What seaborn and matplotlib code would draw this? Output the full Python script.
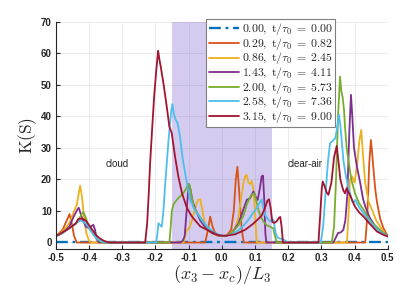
import numpy as np
import pandas as pd
import matplotlib
matplotlib.use("Agg")
import matplotlib.pyplot as plt
import seaborn as sns

# ──────────────────────────────────────────
# DONNÉES
# ──────────────────────────────────────────
labels = ["0.00", "0.29", "0.86", "1.43", "2.00", "2.58", "3.15"]
tau = ["0.00", "0.82", "2.45", "4.11", "5.73", "7.36", "9.00"]

x_000 = [-0.5, 0.5]
y_000 = [0, 0]

x_029 = [-0.5, -0.48, -0.465, -0.459, -0.452, -0.445, -0.437,
         -0.05, -0.042, -0.035, -0.028, -0.018, 0.0, 0.015, 0.028, 0.036,
         0.042, 0.047, 0.053, 0.06, 0.066,
         0.432, 0.438, 0.444, 0.449, 0.453, 0.457, 0.462, 0.467, 0.477,
         0.487, 0.5]
y_029 = [2, 4, 7.5, 9, 6, 2, 0,
         0, 4, 8.2, 5, 2.5, 2, 2.3, 4, 10,
         20, 24, 15, 4, 0,
         0, 8, 25, 32.5, 28, 23, 17, 13, 7.5,
         4.5, 2]

x_086 = [-0.5, -0.48, -0.46, -0.445, -0.437, -0.432, -0.427, -0.422, -0.415,
         -0.408, -0.4, -0.395,
         -0.115, -0.11, -0.105, -0.098, -0.09, -0.08, -0.072, -0.065, -0.058,
         -0.05, -0.035, -0.015, 0.005, 0.025, 0.04, 0.05, 0.058, 0.065, 0.07,
         0.075, 0.08, 0.085, 0.09, 0.095, 0.1, 0.105,
         0.377, 0.382, 0.386, 0.392, 0.4, 0.408, 0.414, 0.42, 0.425, 0.432,
         0.442, 0.452, 0.465, 0.477, 0.49, 0.5]
y_086 = [2, 3.5, 6, 10, 12, 15, 18, 15, 8,
         3, 0.5, 0,
         0, 2.5, 4, 4.5, 7, 11, 13.5, 13.7, 10,
         5, 3.2, 2.2, 2, 2.8, 4.5, 8, 14, 18.8, 21,
         21.4, 19, 18.5, 19.5, 17, 9, 0,
         0, 10, 20, 21, 19, 25, 32, 35.7, 28, 18.8,
         13, 10.4, 7, 5, 3, 2]

x_143 = [-0.5, -0.48, -0.46, -0.445, -0.435, -0.431, -0.425, -0.418, -0.41,
         -0.4, -0.393, -0.387, -0.382, -0.377, -0.37,
         -0.125, -0.118, -0.112, -0.106, -0.1, -0.095, -0.088, -0.078, -0.065,
         -0.05, -0.03, -0.01, 0.01, 0.03, 0.05, 0.065, 0.075, 0.085, 0.095,
         0.102, 0.108, 0.115, 0.12, 0.124, 0.128, 0.131, 0.134,
         0.336, 0.343, 0.35, 0.358, 0.366, 0.372, 0.378, 0.384, 0.389, 0.393,
         0.398, 0.407, 0.417, 0.425, 0.432, 0.445, 0.46, 0.48, 0.5]
y_143 = [2, 3, 5, 8.5, 10.5, 11, 9, 7, 5,
         4.5, 5.2, 5.6, 4, 1, 0,
         0, 0.5, 2, 10, 18.5, 17, 13, 10, 7,
         4.8, 3, 2.2, 2, 3, 6, 10.5, 13.5, 14, 16.2,
         14.5, 13.5, 17.5, 21, 21.2, 13, 3, 0,
         0, 1.5, 3, 3.2, 4, 7, 15, 35, 46.8, 40,
         30, 24, 18.8, 14, 11.4, 8, 5.5, 3.5, 2]

x_200 = [-0.5, -0.48, -0.46, -0.44, -0.43, -0.422, -0.417, -0.41, -0.402,
         -0.39, -0.375, -0.36,
         -0.158, -0.154, -0.151, -0.146, -0.136, -0.126, -0.116, -0.108,
         -0.102, -0.097, -0.09, -0.085, -0.072, -0.06, -0.045, -0.03, -0.01,
         0.01, 0.03, 0.05, 0.065, 0.075, 0.088, 0.098, 0.104, 0.11, 0.118,
         0.125, 0.135, 0.145, 0.155, 0.16, 0.166,
         0.331, 0.338, 0.344, 0.35, 0.356, 0.36, 0.364, 0.368, 0.371, 0.376,
         0.381, 0.39, 0.401, 0.413, 0.427, 0.44, 0.455, 0.475, 0.5]
y_200 = [2, 3, 4.5, 6, 7.5, 9, 9.6, 8, 5,
         3, 1, 0,
         0, 5, 9.8, 12, 13.5, 14.6, 15.6, 17,
         18.6, 18.2, 14, 11.4, 9, 7.2, 5, 3.5, 2.3,
         2, 3, 5.5, 8.5, 12, 15, 15.6, 13, 10.4, 8,
         6.7, 5.5, 5, 4.5, 2, 0,
         0, 5, 20, 40, 52.6, 48, 46, 42, 36.7, 30,
         26.2, 20, 15.6, 12.5, 10.4, 8, 6, 4, 2]

x_258 = [-0.5, -0.48, -0.46, -0.44, -0.427, -0.418, -0.41, -0.4, -0.39,
         -0.38, -0.365, -0.35,
         -0.198, -0.194, -0.191, -0.186, -0.181, -0.176, -0.171, -0.166,
         -0.161, -0.156, -0.152, -0.149, -0.145, -0.141, -0.137, -0.134,
         -0.13, -0.126, -0.121, -0.116, -0.105, -0.095, -0.085, -0.075,
         -0.06, -0.045, -0.025, -0.005, 0.01, 0.03, 0.05, 0.065, 0.08, 0.095,
         0.105, 0.113, 0.12, 0.125, 0.13, 0.138, 0.145, 0.152, 0.156, 0.162,
         0.168, 0.185, 0.2,
         0.298, 0.305, 0.312, 0.32, 0.326, 0.332, 0.336, 0.342, 0.348, 0.353,
         0.358, 0.363, 0.366, 0.372, 0.38, 0.386, 0.393, 0.397, 0.402, 0.412,
         0.425, 0.44, 0.455, 0.475, 0.5]
y_258 = [2, 3, 4.5, 6, 7, 6.5, 6, 4.5, 3,
         1.5, 0.5, 0,
         0, 3, 6.1, 5.5, 5, 10, 18, 25,
         32, 37.8, 42, 43.9, 41, 39.4, 38.5, 38,
         36, 33.6, 29, 25.2, 18.8, 13.5, 11, 9.3,
         7, 5.1, 3.3, 2.3, 2.1, 2.6, 3.8, 5.3, 7.2, 9.5,
         10.9, 12.5, 13.7, 11, 8.8, 7.5, 6.7, 7.3, 7, 3,
         1.5, 1, 0,
         0, 5, 15, 26, 31.5, 32, 32.5, 33, 37, 40.5,
         36, 30, 26.2, 22, 18, 15.6, 13, 12.7, 13.5, 11.4,
         9.5, 7.5, 5.5, 3.5, 1.9]

x_315 = [-0.5, -0.48, -0.46, -0.44, -0.432, -0.42, -0.41, -0.4, -0.39,
         -0.38, -0.37, -0.36, -0.35, -0.34,
         -0.231, -0.225, -0.22, -0.216, -0.21, -0.204, -0.198, -0.192, -0.188,
         -0.184, -0.176, -0.166, -0.158, -0.151, -0.146, -0.141, -0.131,
         -0.12, -0.105, -0.09, -0.065, -0.035, -0.01, 0.01, 0.04, 0.07, 0.095,
         0.11, 0.12, 0.13, 0.137, 0.142, 0.147, 0.152, 0.158, 0.165, 0.172,
         0.176, 0.18, 0.184,
         0.291, 0.297, 0.301, 0.304, 0.309, 0.315, 0.321, 0.33, 0.338, 0.346,
         0.352, 0.357, 0.361, 0.366, 0.371, 0.376, 0.381, 0.386, 0.394, 0.401,
         0.414, 0.427, 0.445, 0.467, 0.485, 0.5]
y_315 = [2, 3.2, 4.5, 6, 7.5, 7.5, 7, 5.5, 4,
         2.5, 1.5, 0.8, 0.3, 0,
         0, 6, 16, 25.2, 36, 46.2, 54, 60.8, 58,
         55.7, 50.5, 43.1, 36.7, 34.7, 31, 27.2, 20.9,
         15.6, 10.9, 8.2, 5.1, 3.5, 2.3, 2.1, 2.6, 4, 6,
         7.5, 8.5, 11, 13.2, 13.7, 11, 6.5, 6.2, 6.7, 7.8,
         8.1, 5, 0,
         0, 10, 17, 19.3, 18, 16, 15.1, 19, 27, 30.6,
         25, 20, 18.3, 16.5, 15.6, 17.2, 16, 15.1, 13, 11.4,
         9.5, 8.2, 6, 3.5, 2.5, 1.9]

xs = [x_000, x_029, x_086, x_143, x_200, x_258, x_315]
ys = [y_000, y_029, y_086, y_143, y_200, y_258, y_315]
colors = ['#0072BD', '#D95319', '#EDB120', '#7E2F8E',
          '#77AC30', '#4DBEEE', '#A2142F']

# ──────────────────────────────────────────
# FIGURE
# ──────────────────────────────────────────
sns.set_style('whitegrid')
plt.rcParams['font.family'] = ['Liberation Sans', 'DejaVu Sans']
plt.rcParams['mathtext.fontset'] = 'cm'

fig = plt.figure(figsize=(3.99, 2.85), dpi=100)
ax = fig.add_axes([0.14, 0.127, 0.832, 0.797])

ax.axvspan(-0.15, 0.15, facecolor=(115 / 255, 85 / 255, 205 / 255),
           alpha=0.3, lw=0, zorder=1)

for i, (x, y) in enumerate(zip(xs, ys)):
    lab = r'$%s,\;\mathrm{t}/\tau_0\;=\;%s$' % (labels[i], tau[i])
    df = pd.DataFrame({'x': x, 'y': y})
    sns.lineplot(data=df, x='x', y='y', ax=ax, color=colors[i],
                 lw=1.3 if i else 1.7, label=lab, estimator=None,
                 sort=False, zorder=2)
ax.lines[0].set_dashes([5, 2, 1.2, 2])

ax.text(-0.315, 25, 'cloud', ha='center', va='center', fontsize=7,
        color='#262626')
ax.text(0.251, 25, 'clear-air', ha='center', va='center', fontsize=7,
        color='#262626')

ax.set_xlim(-0.5, 0.5)
ax.set_ylim(-2, 70)
ax.set_xticks(np.arange(-0.5, 0.51, 0.1))
ax.set_xticklabels(['-0.5', '-0.4', '-0.3', '-0.2', '-0.1', '0.0',
                    '0.1', '0.2', '0.3', '0.4', '0.5'])
ax.set_yticks(np.arange(0, 71, 10))
for lbl in ax.get_xticklabels() + ax.get_yticklabels():
    lbl.set_fontweight('bold')
ax.tick_params(axis='both', direction='in', length=3, width=0.8,
               labelsize=7, colors='#262626', pad=3, left=True, bottom=True)

ax.set_xlabel(r'$(x_3-x_c)/L_3$', fontsize=13, labelpad=0)
ax.set_ylabel(r'$\mathrm{K(S)}$', fontsize=12.5, labelpad=1.5)

ax.grid(color='#ebebeb', lw=0.7)
ax.set_axisbelow(True)
for side in ['top', 'right']:
    ax.spines[side].set_visible(False)
for side in ['left', 'bottom']:
    ax.spines[side].set_color('#262626')
    ax.spines[side].set_linewidth(0.8)

leg = ax.legend(loc='upper left', bbox_to_anchor=(0.453, 1.012),
                borderaxespad=0, fontsize=8.5, labelspacing=-0.12,
                handlelength=2.6, handletextpad=0.2, borderpad=0.2,
                handleheight=0.6,
                fancybox=False, framealpha=1, edgecolor='#808080')
leg.get_frame().set_linewidth(0.8)

fig.savefig('out.png', dpi=100)
